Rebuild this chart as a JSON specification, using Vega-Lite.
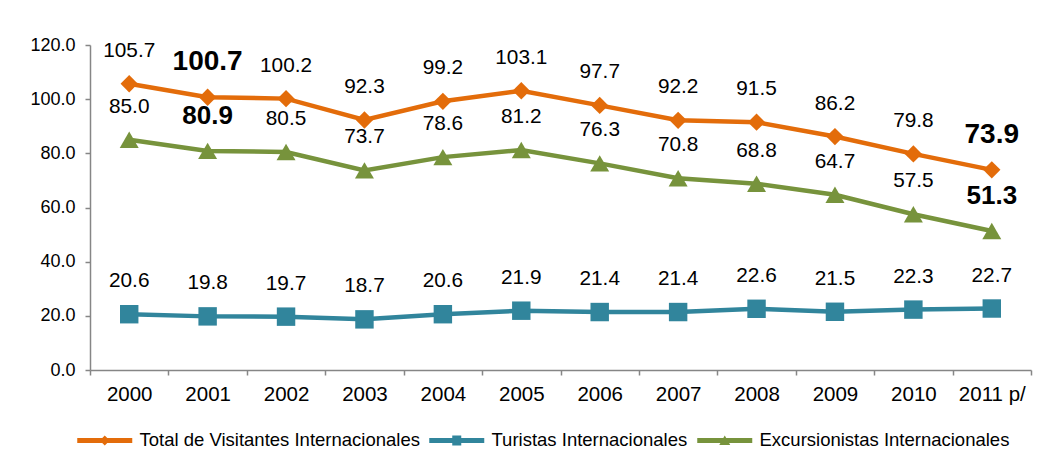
{
  "$schema": "https://vega.github.io/schema/vega-lite/v6.json",
  "width": 941,
  "height": 325,
  "autosize": "none",
  "padding": {"left": 90, "top": 45, "right": 13, "bottom": 95},
  "background": "white",
  "config": {
    "view": {"stroke": null},
    "font": "Liberation Sans",
    "axis": {"labelFont": "Liberation Sans", "labelColor": "#000000", "domainColor": "#868686", "tickColor": "#868686", "domainWidth": 1.5, "tickWidth": 1.5, "tickSize": 5, "grid": false, "title": null},
    "legend": {"orient": "none", "legendX": 28, "legendY": 386, "direction": "horizontal", "title": null, "labelFontSize": 18.5, "labelFont": "Liberation Sans", "labelColor": "#000000", "symbolSize": 100, "symbolStrokeWidth": 0, "symbolOpacity": 1, "labelOffset": 3, "columnPadding": 9, "labelLimit": 400}
  },
  "data": {
    "values": [
      {"year": "2000", "series": "Total de Visitantes Internacionales", "value": 105.7},
      {"year": "2001", "series": "Total de Visitantes Internacionales", "value": 100.7},
      {"year": "2002", "series": "Total de Visitantes Internacionales", "value": 100.2},
      {"year": "2003", "series": "Total de Visitantes Internacionales", "value": 92.3},
      {"year": "2004", "series": "Total de Visitantes Internacionales", "value": 99.2},
      {"year": "2005", "series": "Total de Visitantes Internacionales", "value": 103.1},
      {"year": "2006", "series": "Total de Visitantes Internacionales", "value": 97.7},
      {"year": "2007", "series": "Total de Visitantes Internacionales", "value": 92.2},
      {"year": "2008", "series": "Total de Visitantes Internacionales", "value": 91.5},
      {"year": "2009", "series": "Total de Visitantes Internacionales", "value": 86.2},
      {"year": "2010", "series": "Total de Visitantes Internacionales", "value": 79.8},
      {"year": "2011 p/", "series": "Total de Visitantes Internacionales", "value": 73.9},
      {"year": "2000", "series": "Turistas Internacionales", "value": 20.6},
      {"year": "2001", "series": "Turistas Internacionales", "value": 19.8},
      {"year": "2002", "series": "Turistas Internacionales", "value": 19.7},
      {"year": "2003", "series": "Turistas Internacionales", "value": 18.7},
      {"year": "2004", "series": "Turistas Internacionales", "value": 20.6},
      {"year": "2005", "series": "Turistas Internacionales", "value": 21.9},
      {"year": "2006", "series": "Turistas Internacionales", "value": 21.4},
      {"year": "2007", "series": "Turistas Internacionales", "value": 21.4},
      {"year": "2008", "series": "Turistas Internacionales", "value": 22.6},
      {"year": "2009", "series": "Turistas Internacionales", "value": 21.5},
      {"year": "2010", "series": "Turistas Internacionales", "value": 22.3},
      {"year": "2011 p/", "series": "Turistas Internacionales", "value": 22.7},
      {"year": "2000", "series": "Excursionistas Internacionales", "value": 85.0},
      {"year": "2001", "series": "Excursionistas Internacionales", "value": 80.9},
      {"year": "2002", "series": "Excursionistas Internacionales", "value": 80.5},
      {"year": "2003", "series": "Excursionistas Internacionales", "value": 73.7},
      {"year": "2004", "series": "Excursionistas Internacionales", "value": 78.6},
      {"year": "2005", "series": "Excursionistas Internacionales", "value": 81.2},
      {"year": "2006", "series": "Excursionistas Internacionales", "value": 76.3},
      {"year": "2007", "series": "Excursionistas Internacionales", "value": 70.8},
      {"year": "2008", "series": "Excursionistas Internacionales", "value": 68.8},
      {"year": "2009", "series": "Excursionistas Internacionales", "value": 64.7},
      {"year": "2010", "series": "Excursionistas Internacionales", "value": 57.5},
      {"year": "2011 p/", "series": "Excursionistas Internacionales", "value": 51.3}
    ]
  },
  "encoding": {
    "x": {
      "field": "year", "type": "ordinal", "sort": null,
      "scale": {"type": "band", "paddingInner": 0, "paddingOuter": 0},
      "axis": {"labelAngle": 0, "tickBand": "extent", "labelFontSize": 20.5, "labelPadding": 9}
    },
    "y": {
      "field": "value", "type": "quantitative",
      "scale": {"domain": [0, 120], "nice": false, "zero": true},
      "axis": {"values": [0, 20, 40, 60, 80, 100, 120], "format": ".1f", "labelFontSize": 18, "labelPadding": 10}
    }
  },
  "layer": [
    {
      "mark": {"type": "line", "strokeWidth": 4.5},
      "encoding": {
        "color": {
          "field": "series", "type": "nominal",
          "scale": {"domain": ["Total de Visitantes Internacionales", "Turistas Internacionales", "Excursionistas Internacionales"], "range": ["#E36C0A", "#31859C", "#77933C"]}
        }
      }
    },
    {
      "transform": [{"filter": "datum.series == 'Total de Visitantes Internacionales'"}],
      "mark": {"type": "point", "shape": "diamond", "filled": true, "size": 300, "color": "#E36C0A", "opacity": 1}
    },
    {
      "transform": [{"filter": "datum.series == 'Turistas Internacionales'"}],
      "mark": {"type": "point", "shape": "square", "filled": true, "size": 340, "color": "#31859C", "opacity": 1}
    },
    {
      "transform": [{"filter": "datum.series == 'Excursionistas Internacionales'"}],
      "mark": {"type": "point", "shape": "triangle-up", "filled": true, "size": 360, "color": "#77933C", "opacity": 1}
    },
    {
      "transform": [{"filter": "datum.value < 0"}],
      "mark": {"type": "point", "filled": true, "opacity": 1},
      "encoding": {
        "color": {
          "field": "series", "type": "nominal",
          "scale": {"domain": ["Total de Visitantes Internacionales", "Turistas Internacionales", "Excursionistas Internacionales"], "range": ["#E36C0A", "#31859C", "#77933C"]}
        },
        "shape": {
          "field": "series", "type": "nominal",
          "scale": {
            "domain": ["Total de Visitantes Internacionales", "Turistas Internacionales", "Excursionistas Internacionales"],
            "range": [
              "M-10,-0.5H1V0.5H-10Z M-4.5,-1L-3.5,0L-4.5,1L-5.5,0Z",
              "M-10,-0.5H1V0.5H-10Z M-5.4,-1H-3.6V1H-5.4Z",
              "M-10,-0.5H1V0.5H-10Z M-4.5,-1L-3.4,0.9L-5.6,0.9Z"
            ]
          }
        }
      }
    },
    {
      "transform": [{"filter": "!(datum.series != 'Turistas Internacionales' && (datum.year == '2001' || datum.year == '2011 p/'))"}],
      "mark": {"type": "text", "fontSize": 20.8, "dy": -27, "baseline": "alphabetic", "align": "center", "color": "#000000", "font": "Liberation Sans"},
      "encoding": {"text": {"field": "value", "type": "quantitative", "format": ".1f"}}
    },
    {
      "transform": [{"filter": "datum.series == 'Total de Visitantes Internacionales' && (datum.year == '2001' || datum.year == '2011 p/')"}],
      "mark": {"type": "text", "fontSize": 28, "fontWeight": "bold", "dy": -27, "baseline": "alphabetic", "align": "center", "color": "#000000", "font": "Liberation Sans"},
      "encoding": {"text": {"field": "value", "type": "quantitative", "format": ".1f"}}
    },
    {
      "transform": [{"filter": "datum.series == 'Excursionistas Internacionales' && (datum.year == '2001' || datum.year == '2011 p/')"}],
      "mark": {"type": "text", "fontSize": 26, "fontWeight": "bold", "dy": -27, "baseline": "alphabetic", "align": "center", "color": "#000000", "font": "Liberation Sans"},
      "encoding": {"text": {"field": "value", "type": "quantitative", "format": ".1f"}}
    }
  ]
}
